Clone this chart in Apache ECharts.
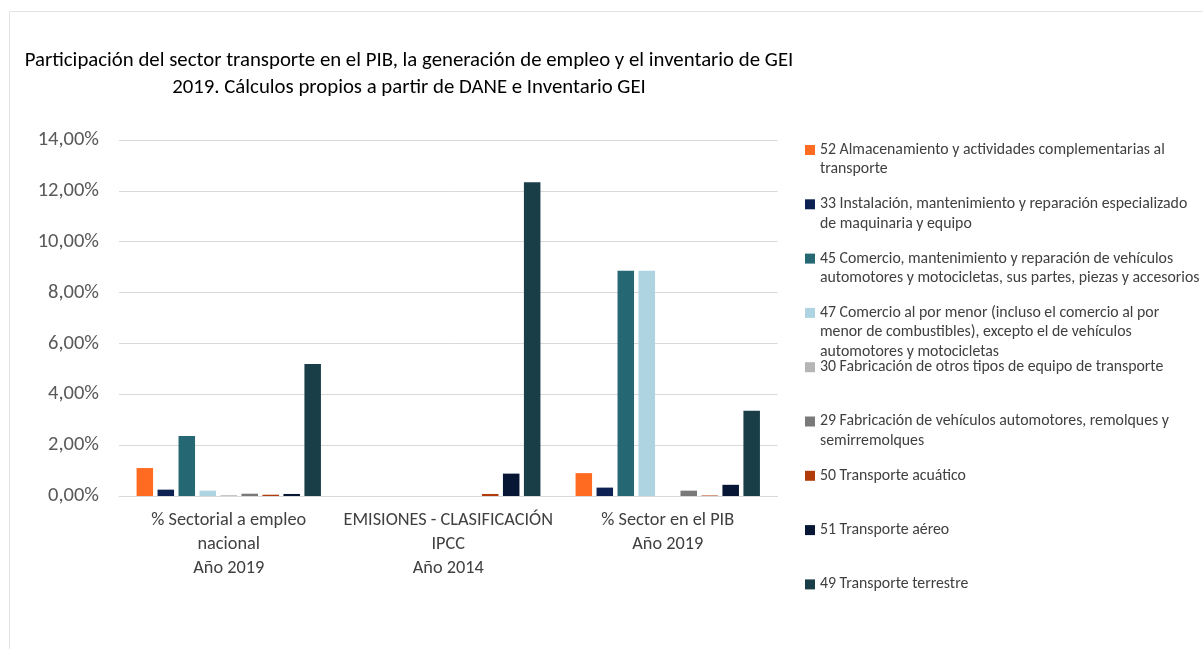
<!DOCTYPE html>
<html>
<head>
<meta charset="utf-8">
<script src="https://cdn.jsdelivr.net/npm/echarts@6/dist/echarts.min.js"></script>
<style>
  html, body { margin: 0; padding: 0; background: #ffffff; }
  #chart { width: 1203px; height: 649px; }
</style>
</head>
<body>
<div id="chart"></div>
<script>
// Indicator groups on the category axis
const categories = [
  '% Sectorial a empleo\nnacional\nAño 2019',
  'EMISIONES - CLASIFICACIÓN\nIPCC\nAño 2014',
  '% Sector en el PIB\nAño 2019'
];

// Sector labels (legend wording, wrapped as shown)
const sectorLabels = [
  '52 Almacenamiento y actividades complementarias al\ntransporte',
  '33 Instalación, mantenimiento y reparación especializado\nde maquinaria y equipo',
  '45 Comercio, mantenimiento y reparación de vehículos\nautomotores y motocicletas, sus partes, piezas y accesorios',
  '47 Comercio al por menor (incluso el comercio al por\nmenor de combustibles), excepto el de vehículos\nautomotores y motocicletas',
  '30 Fabricación de otros tipos de equipo de transporte',
  '29 Fabricación de vehículos automotores, remolques y\nsemirremolques',
  '50 Transporte acuático',
  '51 Transporte aéreo',
  '49 Transporte terrestre'
];

// Shares (%) per sector: [empleo 2019, emisiones 2014, PIB 2019]
const almacenamiento   = [1.10, 0, 0.90];
const instalacion      = [0.25, 0, 0.33];
const comercioVehic    = [2.36, 0, 8.86];
const comercioMenor    = [0.21, 0, 8.86];
const otrosEquipo      = [0.03, 0, 0];
const fabVehiculos     = [0.09, 0, 0.21];
const acuatico         = [0.05, 0.08, 0.02];
const aereo            = [0.08, 0.88, 0.44];
const terrestre        = [5.19, 12.34, 3.35];

// Y axis ticks (%)
const yMin = 0, yMax = 14, yStep = 2;

const sectorValues = [almacenamiento, instalacion, comercioVehic, comercioMenor,
  otrosEquipo, fabVehiculos, acuatico, aereo, terrestre];

const sectorColors = ['#ff6b21', '#0d2252', '#256874', '#aed3e1', '#b5b5b5',
  '#797979', '#b23b0c', '#061634', '#1a3e47'];

const FONT = 'Carlito, Lato, "Open Sans", sans-serif';
const seriesNames = sectorLabels.map(s => s.replace(/\n/g, ' '));

const series = seriesNames.map((name, i) => ({
  name: name,
  type: 'bar',
  data: sectorValues[i],
  barGap: '27%',
  barCategoryGap: '16%',
  itemStyle: { color: sectorColors[i] },
  emphasis: { disabled: true }
}));

// One legend block per sector so that each swatch sits on the first text line
const LEGEND_LH = 19.5;
const legends = seriesNames.map((name, i) => {
  const n = sectorLabels[i].split('\n').length;
  const centerY = 150 + 54.3 * i;
  return {
    data: [name],
    orient: 'vertical',
    left: 805,
    top: centerY - (2 * n - 1) * LEGEND_LH / 2,
    padding: 0,
    itemWidth: 10,
    itemHeight: 10,
    icon: 'rect',
    formatter: () => '\n'.repeat(n - 1) + sectorLabels[i],
    textStyle: {
      fontFamily: FONT,
      fontSize: 15.8,
      color: '#404040',
      lineHeight: LEGEND_LH
    }
  };
});

const chart = echarts.init(document.getElementById('chart'));
chart.setOption({
  backgroundColor: '#ffffff',
  animation: false,
  title: {
    text: 'Participación del sector transporte en el PIB, la generación de empleo y el inventario de GEI\n2019. Cálculos propios a partir de DANE e Inventario GEI',
    left: 409,
    top: 47.5,
    padding: 0,
    textAlign: 'center',
    textStyle: {
      fontFamily: FONT,
      fontSize: 20.8,
      fontWeight: 'normal',
      color: '#000000',
      lineHeight: 27
    }
  },
  graphic: [{
    type: 'rect',
    silent: true,
    shape: { x: 9.5, y: 11.5, width: 1400, height: 900 },
    style: { fill: 'none', stroke: '#e2e2e2', lineWidth: 1 }
  }],
  legend: legends,
  grid: { left: 119, right: 425.5, top: 140, bottom: 153, containLabel: false },
  xAxis: {
    type: 'category',
    data: categories,
    axisLine: { show: true, lineStyle: { color: '#d9d9d9', width: 1 } },
    axisTick: { show: false },
    axisLabel: {
      interval: 0,
      margin: 12,
      fontFamily: FONT,
      fontSize: 18.3,
      color: '#404040',
      lineHeight: 24
    }
  },
  yAxis: {
    type: 'value',
    min: yMin,
    max: yMax,
    interval: yStep,
    axisLine: { show: false },
    axisTick: { show: false },
    splitLine: { lineStyle: { color: '#d9d9d9', width: 1 } },
    axisLabel: {
      margin: 20,
      fontFamily: FONT,
      fontSize: 20.5,
      color: '#595959',
      formatter: v => v.toFixed(2).replace('.', ',') + '%'
    }
  },
  series: series
});
</script>
</body>
</html>
